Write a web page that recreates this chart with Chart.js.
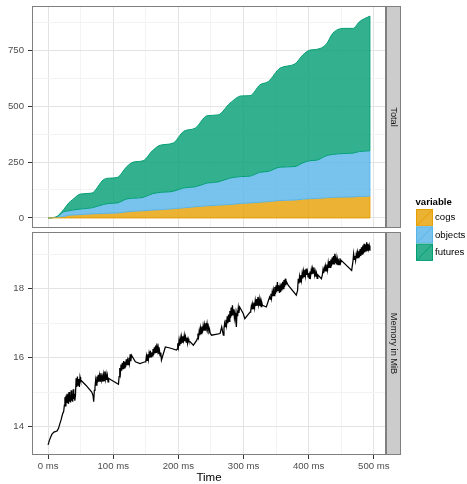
<!DOCTYPE html>
<html>
<head>
<meta charset="utf-8">
<script src="https://cdn.jsdelivr.net/npm/chart.js@4.4.1/dist/chart.umd.min.js"></script>
<style>
  html, body { margin: 0; padding: 0; background: #ffffff; }
  #wrap { position: relative; width: 467px; height: 484px; overflow: hidden; }
  #wrap canvas { position: absolute; left: 0; top: 0; }
</style>
</head>
<body>
<div id="wrap">
  <canvas id="flow" width="467" height="484" style="width:467px;height:484px"></canvas>
  <canvas id="mem" width="467" height="484" style="width:467px;height:484px"></canvas>
</div>
<script>
// ---- allocation counts over time (stacked) ----
const flowTime = [0,12,24,32,37,50,67,85,95,106,121,131,146,160,172,192,208,226,244,261,
                  279,297,310,325,338,356,379,391,402,412,427,437,453,468,478,494];
const cogs     = [0,2,6,12,13,15,18,20,21,22,27,30,32,35,37,41,45,50,54,57,
                  60,65,67,70,73,78,80,84,86,87,90,92,93,94,96,97];
const objects  = [0,1,22,20,22,25,27,40,44,45,58,58,60,73,77,78,89,89,102,104,
                  118,120,120,134,135,149,150,162,170,171,188,192,195,196,201,203];
const futures  = [0,1,10,36,45,67,66,111,113,114,145,162,164,192,211,216,253,263,301,300,
                  335,361,360,391,402,443,459,483,495,496,499,542,560,558,581,603];

// ---- resident memory samples ----
const memTime = [
  0,2,4,6,9,12,14,16,18,20,22,24,
  25,25.8,26.6,27.4,28.2,29,29.8,30.6,31.4,32.2,33,33.8,34.6,35.4,36.2,37,37.8,38.6,39.4,40.2,41,
  42,43,44,45,46,47,48,49,50,58,67,69,70,71,
  72,73,74,75,76,77,78,79,80,81,82,83,84,85,86,87,88,89,90,91,92,93,97,108,
  109,110,111,112,113,114,115,116,117,118,119,120,121,122,123,124,125,126,127,128,134,141,149,
  150,151,152,153,154,155,156,157,158,159,160,161,162,163,164,165,166,167,168,169,170,171,172,173,174,180,187,197,
  198,199,200,201,202,203,204,205,206,207,208,209,210,211,212,213,214,215,216,218,223,228,
  229,230,231,232,233,234,235,236,237,238,239,240,241,242,243,244,245,246,247,248,249,251,264,266.5,269,
  270,271,272,273,274,275,276,277,278,279,280,281,282,283,284,285,286,287,288,289,290,291,292,293,294,299.5,302,310,
  311,312,313,314,315,316,317,318,319,320,321,322,323,324,325,326,327,328,329,335,340,
  341,342,343,344,345,346,347,348,349,350,351,352,353,354,355,356,357,358,359,360,361,362,363,364,365,366,368.5,381,
  383,384,385,386,387,388,389,390,391,392,393,394,395,396,397,398,399,400,401,402,403,404,405,406,407,408,409,410,411,412,413,414,419.5,
  421,422,423,424,425,426,427,428,429,430,431,432,433,434,435,436,437,438,439,440,441,442,443,444,445,446,447,448,449,450,466,
  468,469,470,471,472,473,474,475,476,477,478,479,480,481,482,483,484,485,486,487,488,489,490,491,492,493,494
];
const memMiB = [
  13.47,13.6,13.7,13.78,13.84,13.86,13.88,13.95,14.08,14.2,14.35,14.45,
  14.62,14.85,14.6,14.9,14.7,14.95,14.68,14.82,14.66,15.0,14.72,14.9,14.7,15.05,14.75,14.95,14.72,15.08,14.8,14.95,14.75,
  14.9,15.4,15.15,15.45,15.2,15.38,15.15,15.44,15.35,15.2,15.0,14.9,14.72,15.05,
  15.15,15.35,15.2,15.45,15.28,15.5,15.3,15.48,15.32,15.55,15.35,15.45,15.3,15.5,15.33,15.6,15.38,15.52,15.35,15.48,15.3,15.4,15.35,15.23,
  15.45,15.7,15.55,15.8,15.62,15.85,15.68,15.9,15.7,15.88,15.72,15.95,15.78,15.92,15.8,16.0,15.85,16.1,15.9,16.07,15.88,15.83,15.88,
  15.9,16.05,15.92,16.1,15.95,16.12,16.0,16.2,16.02,16.15,16.05,16.25,16.08,16.3,16.12,16.35,16.15,16.41,16.2,16.3,16.1,16.2,16.05,16.15,15.93,16.31,16.28,16.22,
  16.25,16.42,16.3,16.5,16.35,16.55,16.4,16.6,16.45,16.62,16.5,16.65,16.48,16.6,16.45,16.58,16.42,16.55,16.48,16.46,16.36,16.5,
  16.55,16.7,16.6,16.78,16.65,16.85,16.7,16.9,16.72,16.92,16.78,16.95,16.8,17.0,16.85,16.99,16.82,16.9,16.75,16.8,16.7,16.65,16.7,16.89,16.65,
  16.85,17.0,16.9,17.1,16.95,17.2,17.0,17.25,17.05,17.35,17.15,17.45,17.2,17.52,17.25,17.4,17.15,17.3,17.1,16.89,17.3,17.2,17.45,17.3,17.47,17.28,17.13,17.32,
  17.35,17.5,17.4,17.55,17.42,17.6,17.45,17.65,17.5,17.7,17.52,17.76,17.55,17.7,17.5,17.65,17.48,17.6,17.52,17.47,17.76,
  17.7,17.85,17.72,17.9,17.78,17.95,17.8,18.05,17.85,18.1,17.9,18.19,17.95,18.1,17.88,18.05,17.9,18.15,17.95,18.2,18.0,18.25,18.05,18.29,18.1,18.2,18.1,17.81,
  17.95,18.29,18.15,18.35,18.2,18.4,18.25,18.45,18.3,18.5,18.35,18.55,18.38,18.58,18.4,18.5,18.34,18.45,18.3,18.5,18.38,18.55,18.42,18.58,18.45,18.62,18.4,18.5,18.35,18.45,18.3,18.4,18.29,
  18.4,18.55,18.45,18.6,18.5,18.65,18.52,18.7,18.55,18.75,18.6,18.8,18.62,18.85,18.65,18.9,18.7,18.95,18.72,19.01,18.75,18.9,18.7,18.85,18.68,18.8,18.7,18.88,18.75,18.82,18.53,
  18.8,19.01,18.85,18.95,18.82,19.0,18.88,19.05,18.9,19.1,18.92,19.15,18.95,19.2,19.0,19.25,19.02,19.3,19.05,19.28,19.1,19.35,19.12,19.3,19.15,19.25,19.1
];

// ---- axes ----
const timeTicks   = [0,50,100,150,200,250,300,350,400,450,500];
const timeMajor   = [0,100,200,300,400,500];
const countTicks  = [0,125,250,375,500,625,750,875];
const countMajor  = [0,250,500,750];
const memTicks    = [14,15,16,17,18,19];
const memMajor    = [14,16,18];
const timeRange   = [-24.7, 518.7];
const countRange  = [-45.15, 948.15];
const memRange    = [13.176, 19.644];

const FONT = '"Liberation Sans", Arial, Helvetica, sans-serif';
const layerStyle = [
  { name: 'cogs',    area: 'rgba(230,159,0,0.8)',   edge: '#56B4E9', key: '#E69F00' },
  { name: 'objects', area: 'rgba(86,180,233,0.8)',  edge: '#009E73', key: '#56B4E9' },
  { name: 'futures', area: 'rgba(0,158,115,0.8)',   edge: '#009E73', key: '#009E73' }
];

function gridFor(majors, ticks) {
  return {
    color: c => majors.includes(c.tick && c.tick.value) ? '#E3E3E3' : '#F3F3F3',
    lineWidth: 1,
    drawTicks: ticks,
    tickLength: 4,
    tickColor: c => majors.includes(c.tick && c.tick.value) ? '#333333' : 'rgba(0,0,0,0)'
  };
}
function fixedTicks(values) {
  return s => { s.ticks = values.map(v => ({ value: v })); };
}

// panel border + right-hand strip label
const panelFrame = {
  id: 'panelFrame',
  afterDatasetsDraw(chart, args, opts) {
    const { ctx, chartArea: a } = chart;
    const L = Math.round(a.left), T = Math.round(a.top), R = Math.round(a.right), B = Math.round(a.bottom);
    ctx.save();
    if (opts.baseline) opts.baseline(chart);
    ctx.strokeStyle = '#7F7F7F';
    ctx.lineWidth = 1;
    ctx.strokeRect(L + 0.5, T + 0.5, R - L - 1, B - T - 1);
    ctx.fillStyle = '#CCCCCC';
    ctx.fillRect(R, T, 15, B - T);
    ctx.strokeRect(R + 0.5, T + 0.5, 14, B - T - 1);
    ctx.translate(R + 7.5, (T + B) / 2);
    ctx.rotate(Math.PI / 2);
    ctx.fillStyle = '#1A1A1A';
    ctx.font = '9.2px ' + FONT;
    ctx.textAlign = 'center';
    ctx.textBaseline = 'middle';
    ctx.fillText(opts.label, 0, 0);
    ctx.restore();
  }
};

// legend for the stacked layers
const layerLegend = {
  id: 'layerLegend',
  afterDraw(chart) {
    const ctx = chart.ctx;
    ctx.save();
    ctx.textAlign = 'left';
    ctx.textBaseline = 'middle';
    ctx.fillStyle = '#000';
    ctx.font = 'bold 9.6px ' + FONT;
    ctx.fillText('variable', 415.5, 202.5);
    ctx.font = '9.6px ' + FONT;
    layerStyle.forEach((l, i) => {
      const y = 209 + i * 17.3, x = 416, w = 17, h = 17.3;
      ctx.fillStyle = '#ffffff';
      ctx.fillRect(x, y, w, h);
      ctx.fillStyle = l.area;
      ctx.fillRect(x + 0.5, y + 0.5, w - 1, h - 1);
      ctx.strokeStyle = l.key;
      ctx.lineWidth = 1;
      ctx.strokeRect(x + 0.5, y + 0.5, w - 1, h - 1);
      ctx.beginPath();
      ctx.moveTo(x + 1, y + h - 1);
      ctx.lineTo(x + w - 1, y + 1);
      ctx.stroke();
      ctx.fillStyle = '#000';
      ctx.fillText(l.name, 435, y + h / 2);
    });
    ctx.restore();
  }
};

// bottom edge and closing right edges of the stacked areas
function drawAreaEdges(chart) {
  const { ctx } = chart;
  const xs = chart.scales.x, ys = chart.scales.y;
  const last = flowTime.length - 1;
  const x0 = xs.getPixelForValue(flowTime[0]), x1 = xs.getPixelForValue(flowTime[last]);
  const tops = [cogs[last], cogs[last] + objects[last], cogs[last] + objects[last] + futures[last]];
  ctx.lineWidth = 1;
  ctx.strokeStyle = '#E69F00';
  ctx.beginPath();
  ctx.moveTo(x0, ys.getPixelForValue(0));
  ctx.lineTo(x1, ys.getPixelForValue(0));
  ctx.lineTo(x1, ys.getPixelForValue(tops[0]));
  ctx.stroke();
  ctx.strokeStyle = '#56B4E9';
  ctx.beginPath();
  ctx.moveTo(x1, ys.getPixelForValue(tops[0]));
  ctx.lineTo(x1, ys.getPixelForValue(tops[1]));
  ctx.stroke();
  ctx.strokeStyle = '#009E73';
  ctx.beginPath();
  ctx.moveTo(x1, ys.getPixelForValue(tops[1]));
  ctx.lineTo(x1, ys.getPixelForValue(tops[2]));
  ctx.stroke();
}

Chart.defaults.font.family = FONT;
Chart.defaults.color = '#4D4D4D';

const layerValues = [cogs, objects, futures];

new Chart(document.getElementById('flow'), {
  type: 'line',
  data: {
    datasets: layerStyle.map((l, i) => ({
      label: l.name,
      data: flowTime.map((t, j) => ({ x: t, y: layerValues[i][j] })),
      backgroundColor: l.area,
      borderColor: l.edge,
      borderWidth: 1,
      fill: i === 0 ? 'origin' : '-1',
      pointRadius: 0,
      cubicInterpolationMode: 'monotone'
    }))
  },
  options: {
    responsive: false,
    animation: false,
    devicePixelRatio: 1,
    layout: { padding: { top: 6, right: 81, bottom: 256, left: 0 } },
    plugins: {
      legend: { display: false },
      tooltip: { enabled: false },
      panelFrame: { label: 'Total', baseline: drawAreaEdges }
    },
    scales: {
      x: {
        type: 'linear', min: timeRange[0], max: timeRange[1],
        afterBuildTicks: fixedTicks(timeTicks),
        afterFit: s => { s.height = 0; s.paddingLeft = 0; s.paddingRight = 0; },
        ticks: { display: false },
        grid: gridFor(timeMajor, false),
        border: { display: false }
      },
      y: {
        type: 'linear', stacked: true, min: countRange[0], max: countRange[1],
        afterBuildTicks: fixedTicks(countTicks),
        afterFit: s => { s.width = 32; s.paddingTop = 0; s.paddingBottom = 0; },
        ticks: {
          autoSkip: false, padding: 4, font: { size: 9.6 }, color: '#4D4D4D',
          callback: v => countMajor.includes(v) ? String(v) : ''
        },
        grid: gridFor(countMajor, true),
        border: { display: false }
      }
    }
  },
  plugins: [panelFrame, layerLegend]
});

new Chart(document.getElementById('mem'), {
  type: 'line',
  data: {
    datasets: [{
      label: 'Memory in MiB',
      data: memTime.map((t, i) => ({ x: t, y: memMiB[i] })),
      borderColor: '#000000',
      borderWidth: 1.25,
      pointRadius: 0,
      tension: 0,
      fill: false
    }]
  },
  options: {
    responsive: false,
    animation: false,
    devicePixelRatio: 1,
    layout: { padding: { top: 232, right: 81, bottom: 0, left: 0 } },
    plugins: {
      legend: { display: false },
      tooltip: { enabled: false },
      panelFrame: { label: 'Memory in MiB' }
    },
    scales: {
      x: {
        type: 'linear', min: timeRange[0], max: timeRange[1],
        afterBuildTicks: fixedTicks(timeTicks),
        afterFit: s => { s.height = 29; s.paddingLeft = 0; s.paddingRight = 0; },
        ticks: {
          autoSkip: false, maxRotation: 0, padding: 2, font: { size: 9.6 }, color: '#4D4D4D',
          callback: v => timeMajor.includes(v) ? v + ' ms' : ''
        },
        grid: gridFor(timeMajor, true),
        border: { display: false },
        title: {
          display: true, text: 'Time', color: '#000000',
          font: { size: 11.5, lineHeight: '12px' }, padding: 0
        }
      },
      y: {
        type: 'linear', min: memRange[0], max: memRange[1],
        afterBuildTicks: fixedTicks(memTicks),
        afterFit: s => { s.width = 32; s.paddingTop = 0; s.paddingBottom = 0; },
        ticks: {
          autoSkip: false, padding: 4, font: { size: 9.6 }, color: '#4D4D4D',
          callback: v => memMajor.includes(v) ? String(v) : ''
        },
        grid: gridFor(memMajor, true),
        border: { display: false }
      }
    }
  },
  plugins: [panelFrame]
});
</script>
</body>
</html>
